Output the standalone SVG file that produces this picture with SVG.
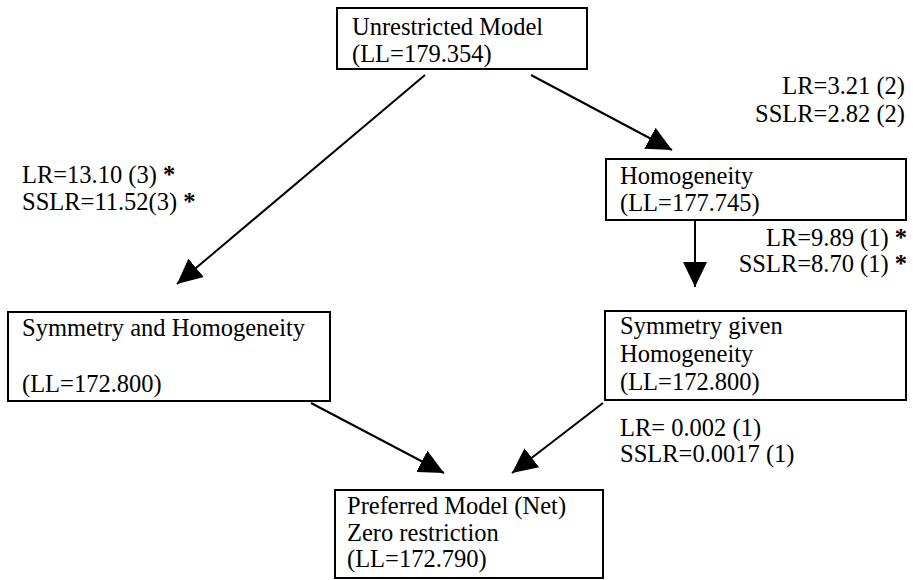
<svg xmlns="http://www.w3.org/2000/svg" width="913" height="580" viewBox="0 0 913 580">
<style>
  text { font-family: "Liberation Serif", "Times New Roman", serif; font-size: 24.5px; fill: #000; }
  .box { fill: #fff; stroke: #000; stroke-width: 2; }
  .conn { stroke: #000; stroke-width: 2; fill: none; marker-end: url(#ah); }
  .r { text-anchor: end; }
  .b { font-weight: bold; }
</style>
<defs>
  <marker id="ah" markerUnits="userSpaceOnUse" markerWidth="28" markerHeight="28" viewBox="0 0 28 28" refX="25" refY="14" orient="auto">
    <path d="M0,2 L25,14 L0,26 Z" fill="#000"/>
  </marker>
</defs>
<rect width="913" height="580" fill="#fff"/>
<g id="connectors">
  <line class="conn" x1="531" y1="75" x2="672" y2="150"/>
  <line class="conn" x1="425" y1="75" x2="177" y2="284"/>
  <line class="conn" x1="695" y1="220" x2="695" y2="287"/>
  <line class="conn" x1="311" y1="403" x2="444" y2="473"/>
  <line class="conn" x1="603" y1="403" x2="512" y2="473"/>
</g>
<g id="unrestricted">
  <rect class="box" x="337" y="8" width="250" height="61"/>
  <text x="352" y="35">Unrestricted Model</text>
  <text x="352" y="62">(LL=179.354)</text>
</g>
<g id="homogeneity">
  <rect class="box" x="606" y="159" width="300" height="61"/>
  <text x="620" y="184">Homogeneity</text>
  <text x="620" y="211">(LL=177.745)</text>
</g>
<g id="symmetry-and-homogeneity">
  <rect class="box" x="8" y="312" width="322" height="89"/>
  <text x="22" y="336">Symmetry and Homogeneity</text>
  <text x="22" y="392">(LL=172.800)</text>
</g>
<g id="symmetry-given-homogeneity">
  <rect class="box" x="605" y="311" width="301" height="89"/>
  <text x="620" y="334">Symmetry given</text>
  <text x="620" y="362">Homogeneity</text>
  <text x="620" y="390">(LL=172.800)</text>
</g>
<g id="preferred">
  <rect class="box" x="335" y="490" width="268" height="88"/>
  <text x="347" y="514">Preferred Model (Net)</text>
  <text x="347" y="541">Zero restriction</text>
  <text x="347" y="567">(LL=172.790)</text>
</g>
<g id="labels">
  <text x="22" y="183">LR=13.10 (3) <tspan class="b">*</tspan></text>
  <text x="22" y="210">SSLR=11.52(3) <tspan class="b">*</tspan></text>
  <text class="r" x="905" y="94">LR=3.21 (2)</text>
  <text class="r" x="905" y="122">SSLR=2.82 (2)</text>
  <text class="r" x="907" y="246">LR=9.89 (1) <tspan class="b">*</tspan></text>
  <text class="r" x="907" y="272">SSLR=8.70 (1) <tspan class="b">*</tspan></text>
  <text x="620" y="436">LR= 0.002 (1)</text>
  <text x="620" y="462">SSLR=0.0017 (1)</text>
</g>
</svg>
